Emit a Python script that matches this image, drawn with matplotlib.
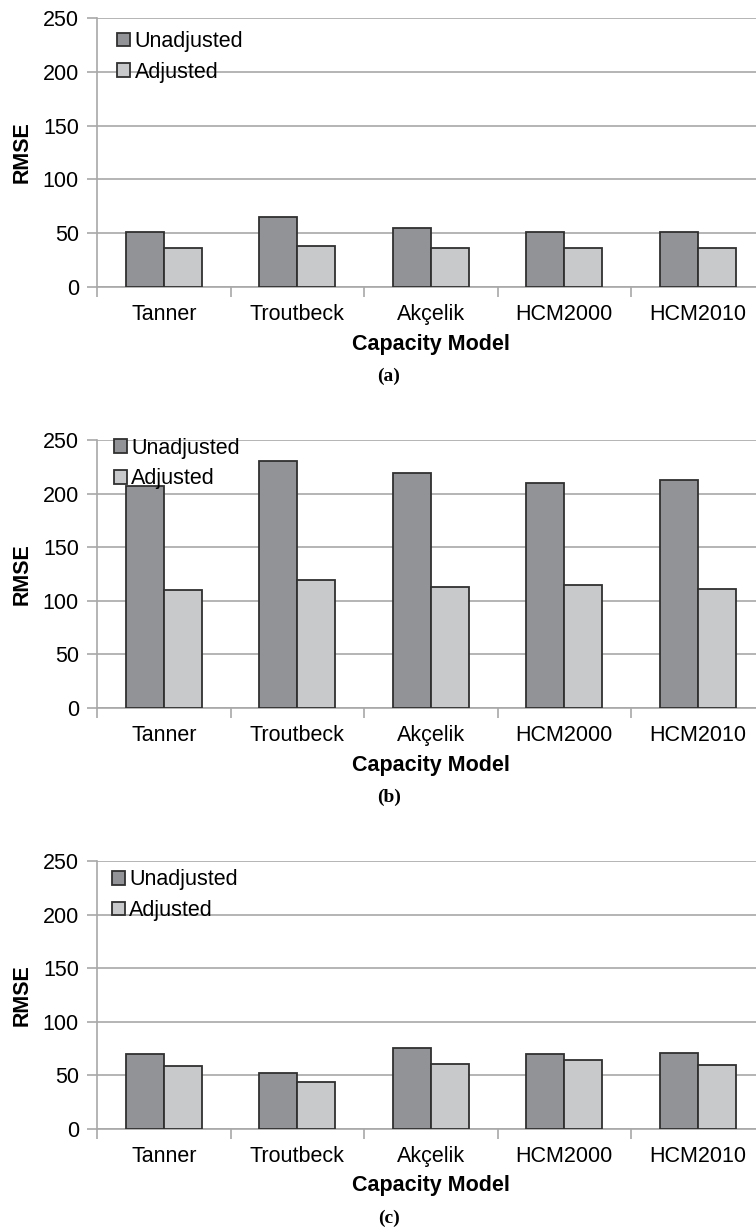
import numpy as np
import matplotlib
matplotlib.use('Agg')
import matplotlib.pyplot as plt
from matplotlib.patches import Patch

# capacity models compared in every panel
models = ['Tanner', 'Troutbeck', 'Akçelik', 'HCM2000', 'HCM2010']

# RMSE per model, before and after adjustment
unadjusted_a = [51, 65, 55, 51, 51]
adjusted_a = [36, 38, 36, 36, 36]

unadjusted_b = [207, 230, 219, 210, 213]
adjusted_b = [110, 119, 113, 115, 111]

unadjusted_c = [70, 52, 76, 70, 71]
adjusted_c = [59, 44, 61, 64, 60]

panel_tags = ['(a)', '(b)', '(c)']
y_ticks = [0, 50, 100, 150, 200, 250]

plt.rcParams['font.family'] = ['Liberation Sans', 'DejaVu Sans']

W, H = 756, 1230
fig = plt.figure(figsize=(W / 100, H / 100), dpi=100)

dark = '#929396'
light = '#c8c9cb'
edge = '#303030'
grey = '#a8a8a8'
fs = 15.5

# panel boxes in pixels: top of axes, bottom of axes, then legend anchor (axes frac)
panels = [
    (18, 287, unadjusted_a, adjusted_a, 0.967, 0.034),
    (440, 708, unadjusted_b, adjusted_b, 1.025, 0.029),
    (861, 1129, unadjusted_c, adjusted_c, 0.985, 0.026),
]

left_px = 97
width_px = 667.5
bar_w = 0.285

for (top, bot, unadj, adj, leg_y, leg_x), tag in zip(panels, panel_tags):
    ax = fig.add_axes([left_px / W, 1 - bot / H, width_px / W, (bot - top) / H])
    x = np.arange(len(models)) + 0.5
    ax.bar(x - bar_w / 2, unadj, bar_w, color=dark, edgecolor=edge, linewidth=1.3, zorder=3)
    ax.bar(x + bar_w / 2, adj, bar_w, color=light, edgecolor=edge, linewidth=1.3, zorder=3)

    ax.set_xlim(0, len(models))
    ax.set_ylim(0, 250)
    ax.set_yticks(y_ticks)
    ax.yaxis.grid(True, color=grey, linewidth=1.2)
    ax.set_axisbelow(True)

    # category boundaries carry the tick marks, centres carry the labels
    ax.set_xticks(np.arange(len(models) + 1))
    ax.set_xticklabels([])
    ax.set_xticks(x, minor=True)
    ax.set_xticklabels(models, minor=True)
    ax.tick_params(axis='x', which='major', length=7, width=1.2, color=grey, direction='out')
    ax.tick_params(axis='x', which='minor', length=0, pad=12, labelsize=fs)
    ax.tick_params(axis='y', length=7, width=1.2, color=grey, pad=6, labelsize=fs)

    for s in ['top', 'right']:
        ax.spines[s].set_visible(False)
    for s in ['left', 'bottom']:
        ax.spines[s].set_color(grey)
        ax.spines[s].set_linewidth(1.2)

    handles = [Patch(facecolor=dark, edgecolor=edge, linewidth=1.3, label='Unadjusted'),
               Patch(facecolor=light, edgecolor=edge, linewidth=1.3, label='Adjusted')]
    ax.legend(handles=handles, loc='upper left', bbox_to_anchor=(leg_x - 0.01, leg_y),
              frameon=False, fontsize=fs, handlelength=0.6, handleheight=0.6,
              handletextpad=0.2, labelspacing=0.45, borderpad=0.2, borderaxespad=0)

    h = bot - top
    ax.text(0.5, -57 / h, 'Capacity Model', transform=ax.transAxes, ha='center',
            va='center', fontsize=fs, fontweight='bold')
    fig.text(22 / W, 1 - (top + bot) / 2 / H, 'RMSE', rotation=90, ha='center',
             va='center', fontsize=fs, fontweight='bold')
    fig.text(389 / W, 1 - (bot + 89) / H, tag, ha='center', va='center',
             fontsize=14, fontweight='bold', family=['Liberation Serif', 'DejaVu Serif'])

fig.savefig('out.png', dpi=100)
